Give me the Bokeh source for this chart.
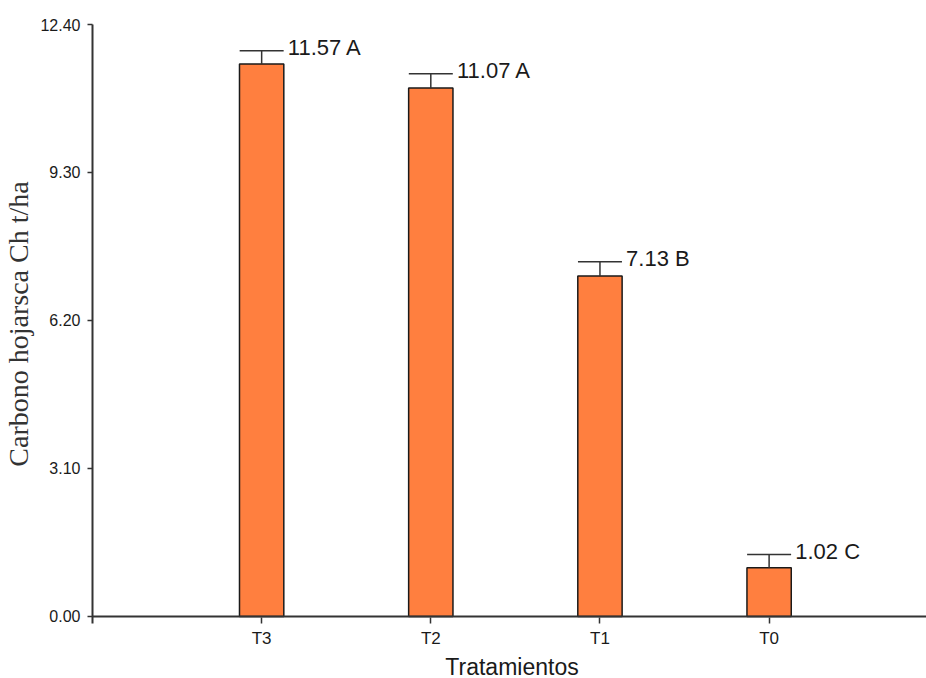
from bokeh.plotting import figure
from bokeh.models import (ColumnDataSource, Range1d, FixedTicker, Span, Whisker,
                          TeeHead, LabelSet, NumeralTickFormatter)
from bokeh.core.properties import value
from bokeh.embed import file_html
from bokeh.resources import INLINE

# ---- data ----
treatments = ["T3", "T2", "T1", "T0"]
carbon = [11.57, 11.07, 7.13, 1.02]
errors = [0.28, 0.30, 0.30, 0.28]
letters = ["A", "A", "B", "C"]
y_ticks = [0.0, 3.1, 6.2, 9.3, 12.4]

xpos = [i + 1 for i in range(len(treatments))]
bar_w = 0.262
src = ColumnDataSource(dict(
    x=xpos,
    top=carbon,
    upper=[c + e for c, e in zip(carbon, errors)],
    xlab=[x + bar_w / 2 for x in xpos],
    label=[f"{c:.2f} {l}" for c, l in zip(carbon, letters)],
))

p = figure(width=931, height=682, output_backend="svg", toolbar_location=None,
           x_range=Range1d(0, 4.96), y_range=Range1d(-0.1476, 12.4),
           min_border_left=87, min_border_right=0, min_border_top=24,
           min_border_bottom=40)
p.outline_line_color = None
p.xgrid.visible = False
p.ygrid.visible = False
p.background_fill_color = "white"
p.border_fill_color = "white"

p.vbar(x="x", top="top", bottom=0, width=bar_w, source=src,
       fill_color="#FF7F3F", line_color="#1a1a1a", line_width=1.5)

wh = Whisker(source=src, base="x", lower="top", upper="upper",
             upper_head=TeeHead(size=44, line_color="#333333", line_width=1.5),
             lower_head=None, line_color="#333333", line_width=1.5, level="glyph")
p.add_layout(wh)

labels = LabelSet(x="xlab", y="upper", text="label", source=src,
                  x_offset=4, y_offset=3, text_baseline="middle",
                  text_font=value("Liberation Sans"), text_font_size="22px",
                  text_color="#1a1a1a")
p.add_layout(labels)

p.add_layout(Span(location=0, dimension="width", line_color="#333333",
                  line_width=2))

# x axis
xa = p.xaxis[0]
xa.ticker = FixedTicker(ticks=xpos)
xa.major_label_overrides = {x: t for x, t in zip(xpos, treatments)}
xa.axis_line_color = None
xa.major_tick_in = 6
xa.major_tick_out = 0
xa.major_tick_line_color = "#333333"
xa.major_tick_line_width = 1.5
xa.minor_tick_line_color = None
xa.major_label_text_font = "Liberation Sans"
xa.major_label_text_font_size = "17px"
xa.major_label_text_color = "#1a1a1a"
xa.major_label_standoff = 5
xa.axis_label = "Tratamientos"
xa.axis_label_text_font = "Liberation Sans"
xa.axis_label_text_font_size = "23px"
xa.axis_label_text_font_style = "normal"
xa.axis_label_text_color = "#1a1a1a"
xa.axis_label_standoff = 3

# y axis
ya = p.yaxis[0]
ya.ticker = FixedTicker(ticks=y_ticks)
ya.formatter = NumeralTickFormatter(format="0.00")
ya.axis_line_color = "#333333"
ya.axis_line_width = 2
ya.major_tick_in = 0
ya.major_tick_out = 5
ya.major_tick_line_color = "#333333"
ya.major_tick_line_width = 1.5
ya.minor_tick_line_color = None
ya.major_label_text_font = "Liberation Sans"
ya.major_label_text_font_size = "16px"
ya.major_label_text_color = "#1a1a1a"
ya.major_label_standoff = 7
ya.axis_label = "Carbono hojarsca Ch t/ha"
ya.axis_label_text_font = "Liberation Serif"
ya.axis_label_text_font_size = "28px"
ya.axis_label_text_font_style = "normal"
ya.axis_label_text_color = "#333333"
ya.axis_label_standoff = 3

open("out.html", "w").write(file_html(p, INLINE))
